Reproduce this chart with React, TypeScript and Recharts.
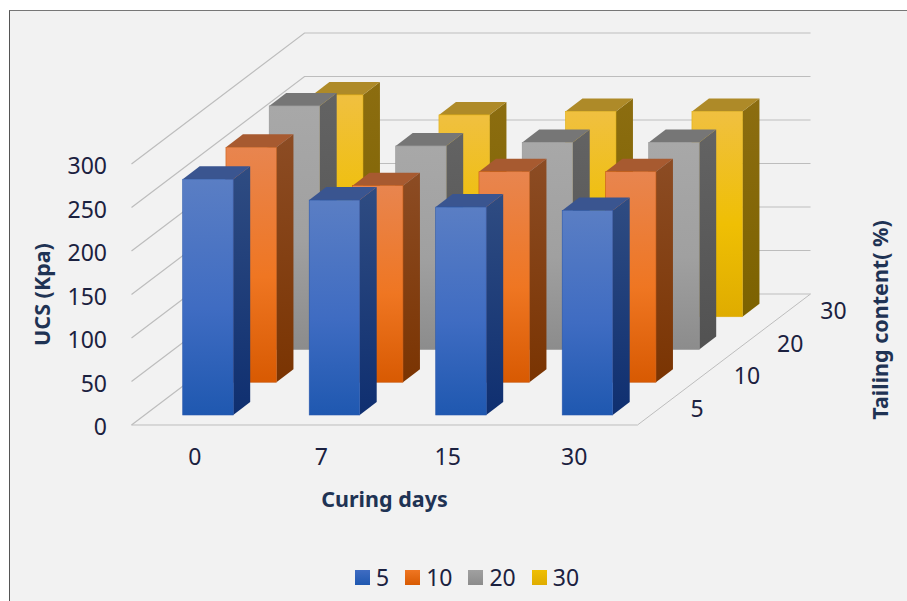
import { BarChart, Bar, XAxis, YAxis, CartesianGrid, Legend } from 'recharts'

const curingDays = ['0', '7', '15', '30']
const tailingLevels = ['5', '10', '20', '30']

const ucsTailing5 = [271, 247, 239, 235]
const ucsTailing10 = [270, 226, 242, 242]
const ucsTailing20 = [280, 234, 238, 238]
const ucsTailing30 = [255, 232, 236, 236]

const tableData = curingDays.map((day, i) => ({
  day,
  t5: ucsTailing5[i],
  t10: ucsTailing10[i],
  t20: ucsTailing20[i],
  t30: ucsTailing30[i],
}))

const yTicks = [0, 50, 100, 150, 200, 250, 300]

// oblique projection of the floor: full depth vector, one row, and the inset of the front row
const FLOOR_DX = 173
const FLOOR_DY = -131
const ROW_DX = 43.25
const ROW_DY = -32.75
const INSET_DX = 13.2
const INSET_DY = -10
const BAR_DX = 17
const BAR_DY = -13
const BAR_W = 50.5

const FONT = '"Noto Sans", sans-serif'
const TICK_SIZE = 23
const TITLE_SIZE = 21.5
const TICK_COLOR = '#1b2140'
const TITLE_COLOR = '#1f3354'

const palette = [
  { id: 'blue', key: 't5', front: ['#5a7ec4', '#3f6cc2', '#1f58b0'], side: ['#2f4c82', '#0f2f70'], top: '#3a5590', edge: '#2a59ad' },
  { id: 'orange', key: 't10', front: ['#e8854f', '#ef7622', '#d85a02'], side: ['#8c4c24', '#7a3402'], top: '#a75a30', edge: '#c95c14' },
  { id: 'grey', key: 't20', front: ['#a8a8a8', '#a0a0a0', '#8c8c8c'], side: ['#636363', '#525252'], top: '#767676', edge: '#949494' },
  { id: 'yellow', key: 't30', front: ['#f0c040', '#efbf04', '#dfac00'], side: ['#8c6d10', '#7c6200'], top: '#ae8a28', edge: '#e0ae10' },
]

// draws one box: front face from the bar's own rectangle, plus extruded side and top
function boxShape(row: number) {
  const c = palette[row]
  return (props: any) => {
    const x = props.x + INSET_DX + row * ROW_DX
    const y = props.y + INSET_DY + row * ROW_DY
    const w = props.width
    const h = props.height
    return (
      <g>
        <path
          d={`M${x + w},${y} L${x + w + BAR_DX},${y + BAR_DY} L${x + w + BAR_DX},${y + h + BAR_DY} L${x + w},${y + h} Z`}
          fill={`url(#side-${c.id})`}
        />
        <path
          d={`M${x},${y} L${x + BAR_DX},${y + BAR_DY} L${x + w + BAR_DX},${y + BAR_DY} L${x + w},${y} Z`}
          fill={c.top}
        />
        <rect x={x} y={y} width={w} height={h} fill={`url(#front-${c.id})`} stroke={c.edge} strokeWidth={0.6} />
      </g>
    )
  }
}

// each grid line runs up the left wall and then along the back wall
function wallLine(props: any) {
  const { x1, x2, y1 } = props
  const backY = y1 + FLOOR_DY
  const isFloor = Math.abs(y1 - 425) < 1
  return (
    <g key={`wall-${y1}`}>
      {isFloor && (
        <path
          d={`M${x1},${y1} L${x2},${y1} L${x2 + FLOOR_DX},${backY}`}
          fill="none"
          stroke="#bdbdbd"
          strokeWidth={1}
        />
      )}
      <path
        d={`M${x1},${y1} L${x1 + FLOOR_DX},${backY} L${x2 + FLOOR_DX},${backY}`}
        fill="none"
        stroke="#bdbdbd"
        strokeWidth={1.2}
      />
    </g>
  )
}

function LegendRow({ payload }: any) {
  // payload comes back sorted as strings, so put it back in tailing order
  const items = tailingLevels.map((level) => (payload ?? []).find((p: any) => p.value === level)).filter(Boolean)
  return (
    <div style={{ display: 'flex', gap: 16, height: 24, alignItems: 'center', fontFamily: FONT, fontSize: TICK_SIZE, lineHeight: '24px', color: TICK_COLOR }}>
      {items.map((item: any, i: number) => {
        const c = palette[i]
        return (
          <div key={item.value} style={{ display: 'flex', alignItems: 'center', gap: 6 }}>
            <span
              style={{
                width: 15,
                height: 15,
                background: `linear-gradient(${c.front[1]}, ${c.front[2]})`,
              }}
            />
            <span>{item.value}</span>
          </div>
        )
      })}
    </div>
  )
}

export default function App() {
  return (
    <div style={{ position: 'absolute', left: 0, top: 0, width: 907, height: 601, background: '#ffffff', overflow: 'hidden' }}>
      <div
        style={{
          position: 'absolute',
          left: 9,
          top: 10,
          width: 898,
          height: 591,
          background: '#f2f2f2',
          borderTop: '1.5px solid #777777',
          borderLeft: '1px solid #555555',
        }}
      />
      <div style={{ position: 'absolute', left: 0, top: 0 }}>
        <BarChart
          width={907}
          height={601}
          data={tableData}
          margin={{ left: 71.5, right: 269.5, top: 164, bottom: 92 }}
          barSize={BAR_W}
          barGap={-BAR_W}
        >
          <defs>
            {palette.map((c) => (
              <linearGradient key={c.id} id={`front-${c.id}`} x1="0" y1="0" x2="0" y2="1">
                <stop offset="0%" stopColor={c.front[0]} />
                <stop offset="55%" stopColor={c.front[1]} />
                <stop offset="100%" stopColor={c.front[2]} />
              </linearGradient>
            ))}
            {palette.map((c) => (
              <linearGradient key={c.id} id={`side-${c.id}`} x1="0" y1="0" x2="0" y2="1">
                <stop offset="0%" stopColor={c.side[0]} />
                <stop offset="100%" stopColor={c.side[1]} />
              </linearGradient>
            ))}
          </defs>
          <CartesianGrid horizontal={wallLine} vertical={false} />
          <XAxis
            dataKey="day"
            height={60}
            axisLine={false}
            tickLine={false}
            tickSize={0}
            tickMargin={24}
            tick={{ fill: TICK_COLOR, fontSize: TICK_SIZE, fontFamily: FONT }}
            label={{
              value: 'Curing days',
              position: 'insideBottom',
              offset: -22,
              fill: TITLE_COLOR,
              fontSize: TITLE_SIZE,
              fontWeight: 700,
              fontFamily: FONT,
            }}
          />
          <YAxis
            width={60}
            domain={[0, 300]}
            ticks={yTicks}
            axisLine={false}
            tickLine={false}
            tickSize={0}
            tickMargin={24.5}
            tick={{ fill: TICK_COLOR, fontSize: TICK_SIZE, fontFamily: FONT, dy: 2 }}
            label={{
              value: 'UCS (Kpa)',
              angle: -90,
              position: 'insideLeft',
              offset: -29,
              style: { textAnchor: 'middle' },
              fill: TITLE_COLOR,
              fontSize: TITLE_SIZE,
              fontWeight: 700,
              fontFamily: FONT,
            }}
          />
          {/* back row first so nearer rows paint over it */}
          <Bar dataKey="t30" name="30" fill="#efbf04" shape={boxShape(3)} isAnimationActive={false} />
          <Bar dataKey="t20" name="20" fill="#a0a0a0" shape={boxShape(2)} isAnimationActive={false} />
          <Bar dataKey="t10" name="10" fill="#ef7622" shape={boxShape(1)} isAnimationActive={false} />
          <Bar dataKey="t5" name="5" fill="#3f6cc2" shape={boxShape(0)} isAnimationActive={false} />
          {tailingLevels.map((level, i) => (
            <text
              key={level}
              x={690.5 + i * ROW_DX}
              y={417 + i * ROW_DY}
              fill={TICK_COLOR}
              fontSize={TICK_SIZE}
              fontFamily={FONT}
            >
              {level}
            </text>
          ))}
          <text
            transform="translate(888,320) rotate(-90)"
            textAnchor="middle"
            fill={TITLE_COLOR}
            fontSize={TITLE_SIZE}
            fontWeight={700}
            fontFamily={FONT}
          >
            Tailing content( %)
          </text>
          <Legend
            content={<LegendRow />}
            wrapperStyle={{ position: 'absolute', left: 355, top: 565, width: 'auto', height: 24 }}
          />
        </BarChart>
      </div>
    </div>
  )
}
